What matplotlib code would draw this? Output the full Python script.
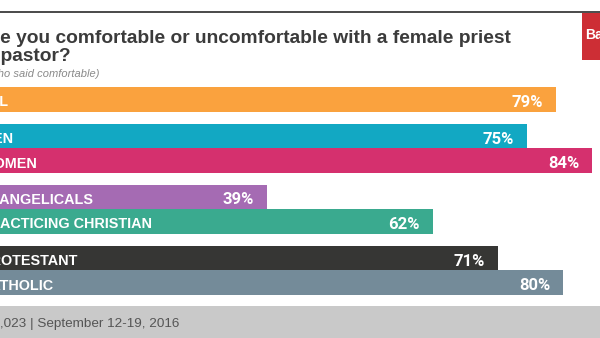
import matplotlib
matplotlib.use("Agg")
import matplotlib.pyplot as plt
from matplotlib.patches import Rectangle
from matplotlib.transforms import offset_copy

# ---- data ----
categories = ["ALL", "MEN", "WOMEN", "EVANGELICALS", "PRACTICING CHRISTIAN",
              "PROTESTANT", "CATHOLIC"]
values = [79, 75, 84, 39, 62, 71, 80]
value_labels = ["79%", "75%", "84%", "39%", "62%", "71%", "80%"]
groups = [0, 1, 1, 2, 2, 3, 3]
colors = ["#faa23e", "#12a8c3", "#d5306e", "#a56bb3", "#3aaa8f",
          "#363634", "#748b99"]
title = "Are you comfortable or uncomfortable with a female priest\nor pastor?"
subtitle = "(% who said comfortable)"
footer = "n=1,023 | September 12-19, 2016"
logo = "Barna"

W, H = 600, 338
fig = plt.figure(figsize=(W / 100, H / 100), dpi=100)
fig.patch.set_facecolor("white")

def fx(x):
    return x / W

def fy(y):
    return 1 - y / H

# pixel-space background elements
bg = fig.add_axes([0, 0, 1, 1])
bg.set_xlim(0, W)
bg.set_ylim(H, 0)
bg.axis("off")
bg.add_patch(Rectangle((0, 306), W, 32, color="#c9c9c9", lw=0))
bg.plot([0, W], [11.5, 11.5], color="#4a4a4a", lw=1.4, solid_capstyle="butt")
bg.add_patch(Rectangle((582, 12.5), 30, 47.5, color="#cd2e35", lw=0))
bg.text(585, 35, logo, color="white", fontsize=10, fontweight="bold",
        family="Liberation Sans", va="center", ha="left", clip_on=False)

# bar axes: x in value units, y in pixel units
ax = fig.add_axes([0, 0, 1, 1], facecolor="none")
ax.set_xlim(15.2 / 7.23, (W + 15.2) / 7.23)
ax.set_ylim(H, 0)
ax.axis("off")

bar_h = 24.5
gap = 12
y = 99.5
ys = []
for i, g in enumerate(groups):
    if i > 0:
        y += bar_h + (gap if g != groups[i - 1] else 0)
    ys.append(y)

ax.barh(ys, values, height=bar_h, color=colors, left=0, lw=0)

val_tr = offset_copy(ax.transData, fig=fig, x=-13, y=0, units="dots")
for yy, v, lab, cat in zip(ys, values, value_labels, categories):
    ax.text(v, yy + 7.5, lab, transform=val_tr, ha="right", va="baseline",
            color="white", fontsize=12, fontweight="bold", family="Roboto")
    fig.text(fx(-19.5), fy(yy + 7), cat, ha="left", va="baseline",
             color="white", fontsize=10.4, fontweight="bold",
             family="Liberation Sans")

# title and subtitle
t1, t2 = title.split("\n")
fig.text(fx(-21), fy(43), t1, ha="left", va="baseline", color="#3b3b3b",
         fontsize=13.8, fontweight="bold", family="Liberation Sans")
fig.text(fx(-23.5), fy(61), t2, ha="left", va="baseline", color="#3b3b3b",
         fontsize=13.8, fontweight="bold", family="Liberation Sans")
fig.text(fx(-27), fy(77), subtitle, ha="left", va="baseline", color="#8a8a8a",
         fontsize=8.0, style="italic", family="Liberation Sans")

fig.text(fx(-23), fy(327), footer, ha="left", va="baseline", color="#555555",
         fontsize=9.7, family="Liberation Sans")

fig.savefig("out.png", dpi=100)
